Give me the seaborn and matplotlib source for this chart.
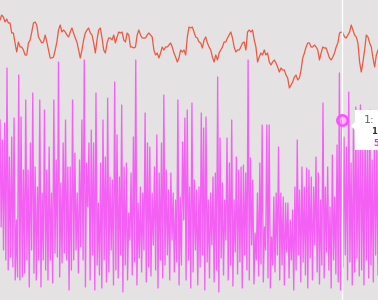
import numpy as np
import pandas as pd
import matplotlib
matplotlib.use("Agg")
import matplotlib.pyplot as plt
import seaborn as sns
from matplotlib.patches import Polygon

# ---- data ----
red_values = [
    280,285,283,278,281,277,277,267,267,257,248,258,253,253,250,245,245,257,260,268,277,278,275,263,260,257,258,265,258,250,242,242,243,250,258,270,275,268,270,268,265,263,268,272,267,262,258,250,242,250,260,267,270,272,267,265,257,247,260,270,272,262,250,247,257,262,262,260,265,257,263,268,
    267,268,260,258,267,265,253,253,252,253,265,270,265,262,262,262,265,267,265,263,250,245,247,242,247,253,250,253,253,255,257,253,247,243,238,242,250,248,250,245,263,273,272,273,268,263,262,258,257,252,260,263,257,253,250,243,238,245,240,247,250,253,258,258,262,265,268,262,253,248,250,250,253,257,258,250,268,270,268,270,260,253,238,243,247,245,250,245,247,238,
    235,238,240,237,233,228,232,230,230,225,222,212,215,218,223,225,220,222,230,242,247,253,257,257,253,253,255,253,250,240,247,253,252,252,247,242,240,243,247,253,257,267,268,267,263,262,265,268,275,270,265,263,257,238,228,238,250,265,263,257,253,242,233,245,250,
]

magenta_peaks = [
    180,160,177,232,143,163,182,80,225,183,130,200,130,157,207,133,113,200,107,190,130,153,107,200,140,238,117,157,180,133,133,200,147,107,140,180,240,137,
    157,170,157,207,97,137,180,143,202,123,120,218,165,123,195,133,137,87,127,163,240,97,113,107,187,157,153,107,133,165,127,157,205,130,110,127,107,100,200,
    103,158,182,190,113,197,120,110,113,187,172,183,100,107,123,127,223,162,117,100,162,137,180,100,143,130,133,135,127,240,142,120,67,107,137,175,73,175,175,63,103,107,153,
    107,103,97,97,80,90,113,160,110,133,113,132,130,123,113,143,127,100,197,113,133,93,145,103,155,227,180,163,153,208,137,173,193,153,
    195,150,175,160,190,140,170,155,
]
magenta_troughs = [
    73,50,40,30,43,33,20,23,20,23,27,40,13,50,27,20,40,13,40,30,20,40,17,47,43,23,37,47,40,10,30,40,50,27,53,40,13,93,
    20,45,10,35,25,12,40,18,28,50,15,30,22,45,8,35,20,60,25,38,15,42,28,50,18,33,24,55,30,12,40,22,35,45,20,60,28,38,15,
    35,80,20,40,12,28,50,15,33,45,10,38,22,55,18,30,8,42,25,60,20,35,14,48,26,38,12,45,30,20,55,16,40,24,36,18,50,22,12,35,28,45,20,
    35,15,48,22,40,10,30,45,18,38,25,12,42,20,55,28,16,35,22,48,30,12,40,26,18,10,33,45,20,38,15,28,42,24,
    30,15,40,22,35,18,45,25,
]
hover_index = 292
tooltip_lines = ["1:", "1", "5"]

# ---- build frames ----
magenta_values = np.empty(len(magenta_peaks) * 2)
magenta_values[0::2] = magenta_peaks
magenta_values[1::2] = magenta_troughs
mag_df = pd.DataFrame({"t": np.linspace(0, 100, len(magenta_values)), "v": magenta_values})
red_df = pd.DataFrame({"t": np.linspace(0, 100, len(red_values)), "v": red_values})

bg = "#e4e2e2"
fig = plt.figure(figsize=(3.78, 3.0), dpi=100)
fig.patch.set_facecolor(bg)
ax = fig.add_axes([0, 0, 1, 1])
ax.set_facecolor(bg)

sns.lineplot(data=mag_df, x="t", y="v", ax=ax, color="#ff1aff", alpha=0.65,
             linewidth=0.95, estimator=None)
sns.lineplot(data=red_df, x="t", y="v", ax=ax, color="#ec4128", alpha=0.85,
             linewidth=0.9, estimator=None)

ax.set_xlim(0, 100)
ax.set_ylim(0, 300)
for s in ax.spines.values():
    s.set_visible(False)
ax.set_xticks([])
ax.set_yticks([])
ax.set_xlabel("")
ax.set_ylabel("")

# hover crosshair and marker
hx = mag_df["t"].iloc[hover_index]
hy = mag_df["v"].iloc[hover_index]
ax.axvline(hx, color="white", linewidth=1.0, zorder=5)
ax.scatter([hx], [hy], s=55, facecolor=(1, 0.4, 1, 0.3), edgecolor="#ff4dff",
           linewidth=1.8, zorder=6)

# tooltip (figure pixel coords)
tr = fig.transFigure
W, H = 378.0, 300.0
def fx(px):
    return px / W
def fy(py):
    return 1 - py / H
poly = Polygon([(fx(355), fy(110)), (fx(390), fy(110)), (fx(390), fy(150)),
                (fx(355), fy(150)), (fx(355), fy(130)), (fx(351), fy(126)),
                (fx(355), fy(122))], closed=True, transform=tr,
               facecolor="white", edgecolor="none", zorder=10)
fig.patches.append(poly)
fig.text(fx(364), fy(120), tooltip_lines[0], fontsize=8, color="#666666",
         va="center", ha="left", zorder=11)
fig.text(fx(371), fy(132), tooltip_lines[1], fontsize=6, color="#333333",
         fontweight="bold", va="center", ha="left", zorder=11)
fig.text(fx(373), fy(143), tooltip_lines[2], fontsize=6, color="#ff1aff",
         fontweight="bold", va="center", ha="left", zorder=11)

fig.savefig("out.png", dpi=100, facecolor=bg)
